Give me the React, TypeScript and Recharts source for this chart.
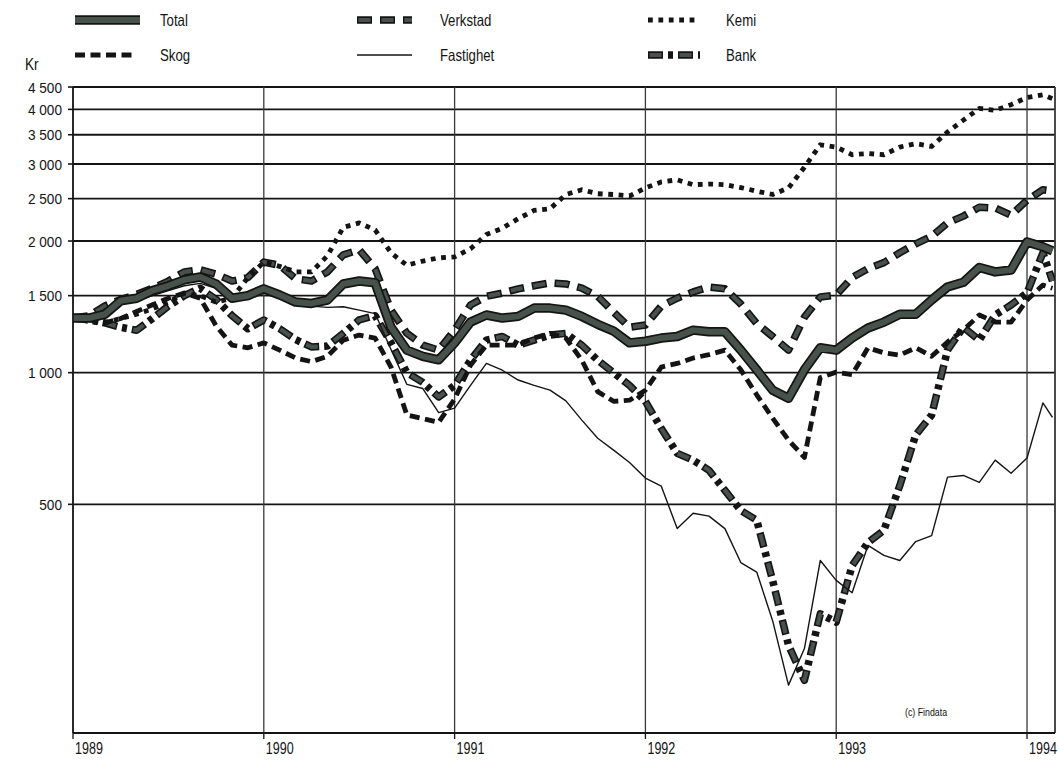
import React from 'react';
import { LineChart, Line, XAxis, YAxis, CartesianGrid, ReferenceLine } from 'recharts';

// month index since January 1989 (last entry: partial month at the right edge)
const months = [
  0, 1, 2, 3, 4, 5, 6, 7, 8, 9, 10, 11,
  12, 13, 14, 15, 16, 17, 18, 19, 20, 21, 22, 23,
  24, 25, 26, 27, 28, 29, 30, 31, 32, 33, 34, 35,
  36, 37, 38, 39, 40, 41, 42, 43, 44, 45, 46, 47,
  48, 49, 50, 51, 52, 53, 54, 55, 56, 57, 58, 59,
  60, 61, 61.6,
];

const total = [
  1333, 1333, 1360, 1460, 1480, 1540, 1580, 1630, 1655, 1595, 1480, 1500,
  1555, 1505, 1450, 1440, 1466, 1595, 1620, 1605, 1270, 1126, 1090, 1070,
  1170, 1305, 1355, 1333, 1345, 1405, 1405, 1390, 1345, 1290, 1245, 1170,
  1180, 1200, 1210, 1251, 1240, 1240, 1126, 1015, 912, 874, 1015, 1140,
  1126, 1200, 1265, 1305, 1360, 1360, 1466, 1570, 1610, 1740, 1700, 1717,
  1990, 1940, 1900,
];

const verkstad = [
  1333, 1350, 1420, 1470, 1510, 1560, 1620, 1700, 1720, 1680, 1620, 1650,
  1790, 1760, 1640, 1620, 1700, 1860, 1910, 1730, 1390, 1230, 1156, 1126,
  1251, 1428, 1495, 1520, 1555, 1580, 1605, 1595, 1560, 1495, 1375, 1270,
  1285, 1420, 1480, 1530, 1570, 1555, 1435, 1295, 1210, 1126, 1340, 1490,
  1505, 1650, 1730, 1785, 1880, 1970, 2050, 2200, 2280, 2390, 2380, 2290,
  2480, 2620, 2600,
];

const kemi = [
  1333, 1310, 1300, 1330, 1360, 1400, 1450, 1520, 1500, 1450, 1480, 1650,
  1790, 1750, 1700, 1700, 1850, 2150, 2200, 2120, 1880, 1760, 1800, 1830,
  1840, 1920, 2070, 2140, 2250, 2350, 2370, 2555, 2620, 2565, 2555, 2535,
  2645, 2730, 2760, 2690, 2700, 2690, 2650, 2600, 2555, 2645, 2950, 3320,
  3280, 3150, 3170, 3150, 3280, 3340, 3290, 3550, 3780, 4020, 3980, 4100,
  4260, 4320, 4230,
];

const skog = [
  1333, 1320, 1300, 1330, 1380, 1430, 1480, 1520, 1480, 1280, 1156, 1140,
  1170, 1126, 1080, 1060, 1090, 1187, 1219, 1200, 1030, 800, 785, 770,
  870, 1040, 1156, 1156, 1156, 1200, 1230, 1200, 1068, 905, 860, 865,
  912, 1030, 1050, 1080, 1100, 1126, 1015, 890, 787, 701, 640, 975,
  1003, 990, 1140, 1110, 1097, 1140, 1090, 1175, 1251, 1355, 1305, 1305,
  1466, 1586, 1560,
];

const fastighet = [
  1333, 1330, 1370, 1440, 1460, 1500, 1540, 1580, 1600, 1560, 1480, 1470,
  1530, 1490, 1440, 1420, 1410, 1415, 1390, 1365, 1130, 940, 920, 810,
  830, 935, 1050, 1013, 962, 935, 912, 862, 779, 708, 665, 623,
  574, 550, 440, 477, 470, 440, 368, 350, 271, 193, 234, 372,
  335, 314, 403, 382, 372, 411, 424, 577, 582, 561, 631, 589,
  638, 853, 790,
];

const bank = [
  1333, 1320, 1300, 1270, 1250, 1330, 1420, 1500, 1560, 1470, 1350, 1260,
  1320, 1260, 1190, 1145, 1150, 1230, 1320, 1350, 1170, 1000, 950, 880,
  935, 1068, 1187, 1210, 1156, 1187, 1219, 1230, 1156, 1068, 1000, 935,
  860, 745, 654, 631, 598, 538, 484, 460, 335, 238, 198, 281,
  269, 362, 409, 436, 552, 720, 800, 1126, 1270, 1187, 1355, 1428,
  1522, 1880, 1620,
];

const yearTicks = [0, 12, 24, 36, 48, 60];
const yearLabels = ['1989', '1990', '1991', '1992', '1993', '1994'];
const valueTicks = [500, 1000, 1500, 2000, 2500, 3000, 3500, 4000, 4500];
const X_MAX = 61.76;
const Y_DOMAIN: [number, number] = [150, 4500];

const data = months.map((m, i) => ({
  m,
  Total: total[i],
  Verkstad: verkstad[i],
  Kemi: kemi[i],
  Skog: skog[i],
  Fastighet: fastighet[i],
  Bank: bank[i],
}));

const FONT = "'Liberation Sans', Arial, sans-serif";
const GRAY = '#48524d';
const INK = '#141414';
const NARROW = 0.8;

type Layer = { stroke: string; width: number; dash?: string; offset?: number };

const styles: Record<string, Layer[]> = {
  Total: [
    { stroke: INK, width: 9.5 },
    { stroke: GRAY, width: 6 },
  ],
  Verkstad: [
    { stroke: INK, width: 7.5, dash: '15 8' },
    { stroke: GRAY, width: 4.2, dash: '12 11', offset: -1.5 },
  ],
  Kemi: [{ stroke: INK, width: 4.8, dash: '4.8 5.6' }],
  Skog: [{ stroke: INK, width: 4.8, dash: '10 5.5' }],
  Fastighet: [{ stroke: INK, width: 1.4 }],
  Bank: [
    { stroke: INK, width: 7.5, dash: '15 5 5 5' },
    { stroke: GRAY, width: 4.2, dash: '12 18', offset: -1.5 },
  ],
};

const drawOrder = ['Verkstad', 'Bank', 'Skog', 'Kemi', 'Fastighet', 'Total'];

const legendItems = [
  { key: 'Total', sx: 75, sw: 65, tx: 160, y: 20 },
  { key: 'Verkstad', sx: 357, sw: 55, tx: 440, y: 20 },
  { key: 'Kemi', sx: 648, sw: 52, tx: 726, y: 20 },
  { key: 'Skog', sx: 75, sw: 60, tx: 160, y: 55 },
  { key: 'Fastighet', sx: 357, sw: 55, tx: 440, y: 55 },
  { key: 'Bank', sx: 648, sw: 52, tx: 726, y: 55 },
];

const fmtValue = (v: number) =>
  v >= 1000 ? `${Math.floor(v / 1000)} ${String(v % 1000).padStart(3, '0')}` : String(v);

const YTick = (props: any) => {
  const { x, y, payload } = props;
  return (
    <text
      transform={`translate(${x},${y}) scale(0.88,1)`}
      x={0}
      y={0}
      dy="0.36em"
      textAnchor="end"
      fontFamily={FONT}
      fontSize={15.5}
      fill={INK}
    >
      {fmtValue(payload.value)}
    </text>
  );
};

const XTick = (props: any) => {
  const { x, y, payload } = props;
  const idx = yearTicks.indexOf(payload.value);
  return (
    <text
      transform={`translate(${x + 2},${y}) scale(0.76,1)`}
      x={0}
      y={0}
      dy="0.75em"
      textAnchor="start"
      fontFamily={FONT}
      fontSize={16.5}
      fill={INK}
    >
      {idx >= 0 ? yearLabels[idx] : ''}
    </text>
  );
};

const Legend6 = () => (
  <svg width={1058} height={75} style={{ position: 'absolute', left: 0, top: 0 }}>
    {legendItems.map((it) => (
      <g key={it.key}>
        {styles[it.key].map((l, i) => (
          <line
            key={i}
            x1={it.sx}
            x2={it.sx + it.sw}
            y1={it.y}
            y2={it.y}
            stroke={l.stroke}
            strokeWidth={l.width}
            strokeDasharray={l.dash}
            strokeDashoffset={l.offset}
          />
        ))}
        <text
          transform={`translate(${it.tx},${it.y}) scale(${NARROW},1)`}
          x={0}
          y={0}
          dy="0.36em"
          fontFamily={FONT}
          fontSize={16.5}
          fill={INK}
        >
          {it.key}
        </text>
      </g>
    ))}
  </svg>
);

export default function App() {
  return (
    <div style={{ position: 'absolute', left: 0, top: 0, width: 1058, height: 765, background: '#fff' }}>
      <LineChart
        width={1058}
        height={765}
        data={data}
        margin={{ top: 87, right: 3, left: 0, bottom: 0 }}
      >
        <CartesianGrid vertical={false} stroke={INK} strokeWidth={1.8} />
        <CartesianGrid horizontal={false} stroke="#3a3a3a" strokeWidth={1.3} />
        <XAxis
          dataKey="m"
          type="number"
          domain={[0, X_MAX]}
          allowDataOverflow
          ticks={yearTicks}
          tick={<XTick />}
          tickSize={6}
          tickMargin={3}
          height={32}
          axisLine={{ stroke: INK, strokeWidth: 1.6 }}
          tickLine={{ stroke: INK, strokeWidth: 1.3 }}
          interval={0}
        />
        <YAxis
          scale="log"
          domain={Y_DOMAIN}
          allowDataOverflow
          ticks={valueTicks}
          tick={<YTick />}
          tickSize={5}
          tickMargin={6}
          width={73}
          axisLine={{ stroke: INK, strokeWidth: 1.6 }}
          tickLine={{ stroke: INK, strokeWidth: 1.6 }}
          interval={0}
        />
        <ReferenceLine x={X_MAX} stroke="#3a3a3a" strokeWidth={1.5} />
        {drawOrder.flatMap((key) =>
          styles[key].map((l, i) => (
            <Line
              key={`${key}-${i}`}
              dataKey={key}
              type="linear"
              stroke={l.stroke}
              strokeWidth={l.width}
              strokeDasharray={l.dash}
              strokeDashoffset={l.offset}
              strokeLinejoin="round"
              dot={false}
              activeDot={false}
              isAnimationActive={false}
              legendType="none"
            />
          ))
        )}
      </LineChart>
      <Legend6 />
      <div
        style={{
          position: 'absolute',
          left: 25,
          top: 55,
          fontFamily: FONT,
          fontSize: 17,
          color: INK,
          transform: `scaleX(${NARROW})`,
          transformOrigin: 'left top',
        }}
      >
        Kr
      </div>
      <div
        style={{
          position: 'absolute',
          left: 905,
          top: 706,
          fontFamily: FONT,
          fontSize: 11,
          color: INK,
          transform: `scaleX(${NARROW})`,
          transformOrigin: 'left top',
          whiteSpace: 'nowrap',
        }}
      >
        (c) Findata
      </div>
    </div>
  );
}
